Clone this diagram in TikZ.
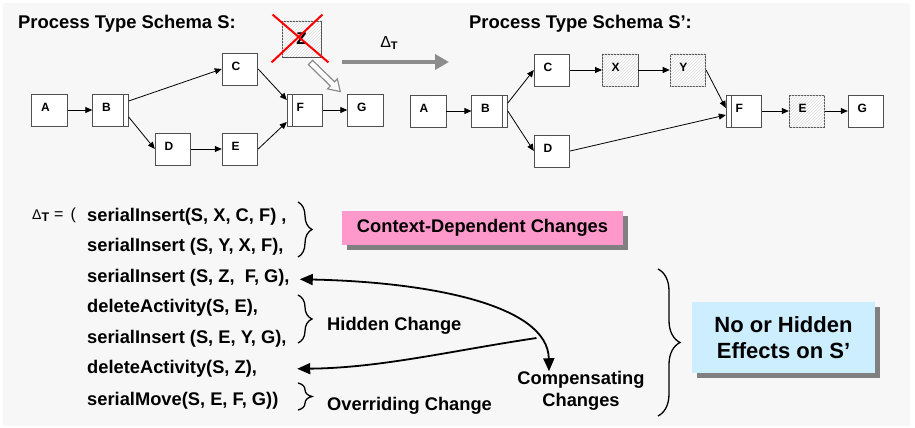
\documentclass[tikz,border=0pt]{standalone}
\usepackage{fontspec}
\setmainfont{Liberation Sans}
\usetikzlibrary{arrows.meta,patterns,calc,decorations.pathreplacing,shadows}

\definecolor{pagegray}{HTML}{F7F7F7}
\definecolor{boxline}{HTML}{505050}
\definecolor{pinkbox}{HTML}{FF99CC}
\definecolor{bluebox}{HTML}{CCEEFF}
\definecolor{shadowgray}{HTML}{808080}
\definecolor{arrowgray}{HTML}{8C8C8C}
\definecolor{hatchgray}{HTML}{DADADA}

\begin{document}
\begin{tikzpicture}[x=1pt,y=-1pt,
  act/.style={draw=boxline, line width=0.9pt, fill=white,
    minimum width=35.5pt, minimum height=32pt, inner sep=0pt,
    text width=17pt, align=left, text height=8.6pt, text depth=5pt,
    font=\fontsize{12}{12}\selectfont\bfseries},
  hatched/.style={act, fill=white,
    postaction={pattern=north east lines, pattern color=hatchgray}},
  flow/.style={draw=black, line width=0.8pt, -{Triangle[length=7pt,width=6pt]}},
  title/.style={anchor=base west, inner sep=0pt, font=\fontsize{18.4}{20}\selectfont\bfseries},
  op/.style={anchor=base west, inner sep=0pt, font=\fontsize{18.3}{20}\selectfont\bfseries},
  brc/.style={decorate, decoration={brace, amplitude=#1}, line width=1.3pt},
  bigarrow/.style={draw=black, line width=1.8pt, >={Triangle[length=13pt,width=11pt]}},
  cardshadow/.style={drop shadow={shadow xshift=5pt, shadow yshift=-5pt, fill=shadowgray, opacity=1}}
]
\useasboundingbox (0,0) rectangle (915,428);
\fill[white] (0,0) rectangle (915,428);
\fill[pagegray] (3,3) rectangle (910,426);

% ---------- schema S ----------
\node[title] (tS) at (18,29) {Process Type Schema S:};
\node[act] (A) at (49.5,110) {A};
\node[act] (B) at (110.5,110) {B};
\node[act] (C) at (240,69) {C};
\node[act] (D) at (173,149) {D};
\node[act] (E) at (240,149) {E};
\node[act] (F) at (305,110) {F};
\node[act] (G) at (365.5,110) {G};
\draw[boxline, line width=0.9pt] ([xshift=-5pt]B.north east) -- ([xshift=-5pt]B.south east);
\draw[boxline, line width=0.9pt] ([xshift=6pt]F.north west) -- ([xshift=6pt]F.south west);

\draw[flow] (A) -- (B);
\draw[flow] ([yshift=9pt]B.east) -- (C.west);
\draw[flow] ([yshift=-7pt]B.east) -- (D.west);
\draw[flow] (D) -- (E);
\draw[flow] (C.east) -- ([yshift=10pt]F.west);
\draw[flow] (E.east) -- ([yshift=-12pt]F.west);
\draw[flow] (F) -- (G);

% deleted activity Z
\node[hatched, minimum width=39pt, minimum height=36pt, text width=39pt, align=center,
  text height=12pt, text depth=0pt, font=\fontsize{17}{17}\selectfont\bfseries] (Z) at (301.5,39) {Z};
\draw[red, line width=2pt] ([shift={(-9,-6)}]Z.north west) -- ([shift={(7,5)}]Z.south east);
\draw[red, line width=2pt] ([shift={(1,-6)}]Z.north east) -- ([shift={(-10,5)}]Z.south west);

% hollow arrow from Z towards G
\coordinate (zt) at ([shift={(9,5)}]Z.south);
\coordinate (gt) at ([shift={(-7,-2)}]G.north west);
\coordinate (hb) at ($(gt)!11pt!(zt)$);
\filldraw[fill=white, draw=arrowgray, line width=1.2pt, line join=miter]
  ($(zt)!3pt!90:(gt)$) -- ($(hb)!3pt!90:(gt)$) -- ($(hb)!7pt!90:(gt)$) -- (gt)
  -- ($(hb)!7pt!-90:(gt)$) -- ($(hb)!3pt!-90:(gt)$) -- ($(zt)!3pt!-90:(gt)$) -- cycle;

% delta arrow
\coordinate (ds) at (342,62);
\coordinate (de) at (449,62);
\draw[arrowgray, line width=4pt, -{Triangle[length=14pt,width=15pt]}] (ds) -- (de);
\node[inner sep=0pt] (dT) at (389,43)
  {{\fontsize{16}{16}\selectfont Δ}\raisebox{-2.5pt}{\fontsize{11}{11}\selectfont\bfseries T}};

% ---------- schema S' ----------
\node[title] (tS2) at (469,29) {Process Type Schema S’:};
\node[act] (A2) at (428.2,111) {A};
\node[act] (B2) at (489.6,111) {B};
\node[act] (C2) at (552,70) {C};
\node[hatched] (X2) at (620.2,70) {X};
\node[hatched] (Y2) at (687.9,70) {Y};
\node[act] (D2) at (552,151) {D};
\node[act] (F2) at (744,111) {F};
\node[hatched] (E2) at (807,111) {E};
\node[act] (G2) at (866,111) {G};
\draw[boxline, line width=0.9pt] ([xshift=-5.5pt]B2.north east) -- ([xshift=-5.5pt]B2.south east);
\draw[boxline, line width=0.9pt] ([xshift=6pt]F2.north west) -- ([xshift=6pt]F2.south west);

\draw[flow] (A2) -- (B2);
\draw[flow] ([yshift=8pt]B2.east) -- (C2.west);
\draw[flow] (B2.east) -- (D2.west);
\draw[flow] (C2) -- (X2);
\draw[flow] (X2) -- (Y2);
\draw[flow] (Y2.east) -- ([yshift=3pt]F2.west);
\draw[flow] (D2.east) -- ([yshift=-4pt]F2.west);
\draw[flow] (F2) -- (E2);
\draw[flow] (E2) -- (G2);

% ---------- change log ----------
\node[anchor=base west, inner sep=0pt] (dl) at (32,219)
  {{\fontsize{14}{14}\selectfont Δ}\raisebox{-2pt}{\fontsize{12.5}{12.5}\selectfont\bfseries T}\hspace{5pt}{\fontsize{16}{16}\selectfont =\hspace{7pt}(}};
\node[op] (l1) at (87,221) {serialInsert(S, X, C, F) ,};
\node[op] (l2) at (87,251.5) {serialInsert (S, Y, X, F),};
\node[op] (l3) at (87,282) {serialInsert (S, Z,\ \ F, G),};
\node[op] (l4) at (87,312.5) {deleteActivity(S, E),};
\node[op] (l5) at (87,343) {serialInsert (S, E, Y, G),};
\node[op] (l6) at (87,373.5) {deleteActivity(S, Z),};
\node[op] (l7) at (87,405) {serialMove(S, E, F, G))};

\draw[brc=14pt] (298,202) -- (298,257);
\draw[brc=14pt] (298,295) -- (298,343);
\draw[brc=14pt] (298,383) -- (298,410);
\draw[brc=22pt] (658,269) -- (658,416);

\node[op] (hid) at (327,330) {Hidden Change};
\node[op] (ovr) at (327,410) {Overriding Change};

\node[fill=pinkbox, cardshadow, minimum width=281pt, minimum height=34pt, inner sep=0pt,
  font=\fontsize{18.3}{20}\selectfont\bfseries] (cd) at (482.5,228) {Context-Dependent Changes};

\node[fill=bluebox, cardshadow, minimum width=183pt, minimum height=71pt, inner sep=0pt,
  align=center, font=\fontsize{22}{26.5}\selectfont\bfseries] (nh) at (783.5,337.5)
  {No or Hidden\\Effects on S’};

\node[inner sep=0pt, align=center, font=\fontsize{18.3}{22}\selectfont\bfseries]
  (comp) at (581,391) {Compensating\\Changes};

\coordinate (t3) at ([shift={(10,2)}]l3.east);
\coordinate (t6) at ([xshift=40pt]l6.east);
\coordinate (tc) at ([xshift=-32pt]comp.north);
\draw[bigarrow, <->] (t3) .. controls (430,282) and (548,305) .. coordinate[pos=0.81] (jn) (tc);
\draw[bigarrow, ->] (jn) .. controls (450,351) and (380,368) .. (t6);
\end{tikzpicture}
\end{document}
